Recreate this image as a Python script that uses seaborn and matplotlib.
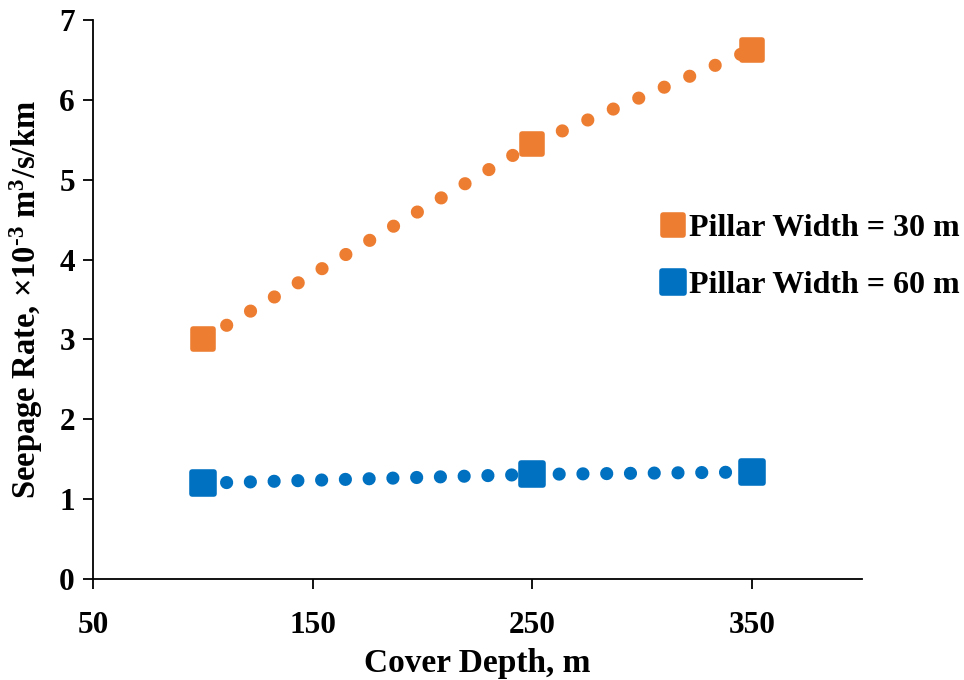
import numpy as np
import pandas as pd
import seaborn as sns
import matplotlib.pyplot as plt
from matplotlib.lines import Line2D
from matplotlib.markers import MarkerStyle

# values
depth = [100, 250, 350]
rate_30 = [3.00, 5.45, 6.63]
rate_60 = [1.20, 1.31, 1.34]
labels = ['Pillar Width = 30 m', 'Pillar Width = 60 m']
colors = ['#ED7D31', '#0070C0']

df = pd.DataFrame({
    'depth': depth * 2,
    'rate': rate_30 + rate_60,
    'width': [labels[0]] * 3 + [labels[1]] * 3,
})

sns.set_style('ticks')
plt.rcParams['font.family'] = ['Liberation Serif', 'DejaVu Serif']
plt.rcParams['font.weight'] = 'bold'
plt.rcParams['text.color'] = 'black'
plt.rcParams['axes.labelcolor'] = 'black'
plt.rcParams['mathtext.fontset'] = 'custom'
plt.rcParams['mathtext.rm'] = 'Liberation Serif:bold'
plt.rcParams['mathtext.bf'] = 'Liberation Serif:bold'
plt.rcParams['mathtext.it'] = 'Liberation Serif:bold'

rsq = MarkerStyle('s', joinstyle='round')

fig = plt.figure(figsize=(9.64, 6.8), dpi=100)
ax = fig.add_axes([0.0965, 0.1485, 0.7975, 0.8221])

# dotted connecting lines
for lab, c, gap in zip(labels, colors, [2.1, 1.8]):
    sub = df[df['width'] == lab]
    sns.lineplot(data=sub, x='depth', y='rate', ax=ax, color=c, lw=9.5,
                 linestyle=(0, (0.001, gap)), dash_capstyle='round', legend=False)

# square markers
for lab, c, ms in zip(labels, colors, [15, 16.5]):
    sub = df[df['width'] == lab]
    ax.plot(sub['depth'], sub['rate'], ls='', marker=rsq, ms=ms, color=c,
            mec=c, mew=4, zorder=5)

ax.set_xlim(50, 400)
ax.set_ylim(0, 7)
ax.set_xticks([50, 150, 250, 350])
ax.set_yticks(range(0, 8))
sns.despine(ax=ax)
for s in ['left', 'bottom']:
    ax.spines[s].set_linewidth(1.3)
    ax.spines[s].set_color('black')
ax.tick_params(axis='both', direction='out', length=7, width=1.3, colors='black',
               labelsize=22.5, pad=6)
ax.tick_params(axis='x', pad=16)
for t in ax.get_xticklabels() + ax.get_yticklabels():
    t.set_fontweight('bold')

ax.set_xlabel('Cover Depth, m', fontsize=24, fontweight='bold', labelpad=6)
ax.set_ylabel(r'Seepage Rate, $\times$10$^{\text{-3}}$ m$^{3}$/s/km', fontsize=23.5,
              fontweight='bold', labelpad=10)

handles = [Line2D([], [], ls='', marker=rsq, ms=ms, color=c, mec=c, mew=4)
           for c, ms in zip(colors, [14, 16])]
leg = fig.legend(handles, labels, loc='center left', bbox_to_anchor=(0.658, 0.622),
                 frameon=False, handlelength=0.6, handletextpad=0.2,
                 labelspacing=0.85, prop={'family': 'Liberation Serif', 'weight': 'bold', 'size': 23})

fig.savefig('out.png', dpi=100)
